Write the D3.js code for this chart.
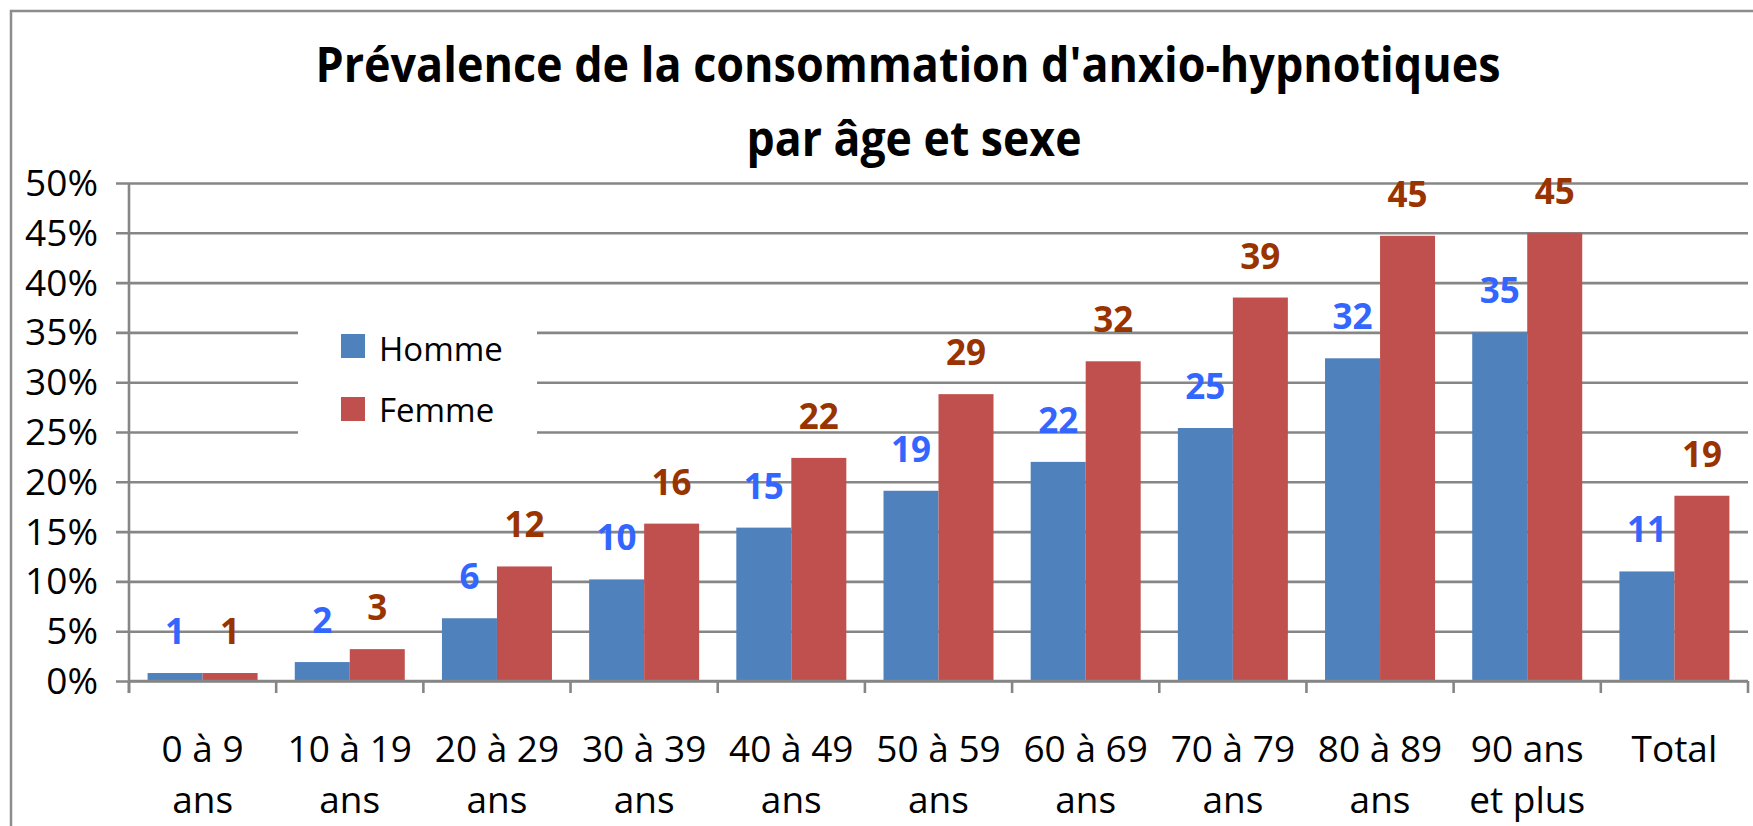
<!DOCTYPE html>
<html>
<head>
<meta charset="utf-8">
<script src="https://cdn.jsdelivr.net/npm/d3@7"></script>
<style>
  html, body { margin: 0; padding: 0; background: #fff; }
  svg { display: block; }
  text { font-family: "Open Sans", "Noto Sans", sans-serif; }
</style>
</head>
<body>
<svg id="chart" width="1753" height="826"></svg>
<script>
// ---- data ----
const categories = ["0 à 9 ans", "10 à 19 ans", "20 à 29 ans", "30 à 39 ans", "40 à 49 ans",
  "50 à 59 ans", "60 à 69 ans", "70 à 79 ans", "80 à 89 ans", "90 ans et plus", "Total"];
const categoryLines = [["0 à 9", "ans"], ["10 à 19", "ans"], ["20 à 29", "ans"], ["30 à 39", "ans"],
  ["40 à 49", "ans"], ["50 à 59", "ans"], ["60 à 69", "ans"], ["70 à 79", "ans"],
  ["80 à 89", "ans"], ["90 ans", "et plus"], ["Total"]];
const seriesNames = ["Homme", "Femme"];
const homme = [0.8, 1.9, 6.3, 10.2, 15.4, 19.1, 22.0, 25.4, 32.4, 35.0, 11.0];
const femme = [0.8, 3.2, 11.5, 15.8, 22.4, 28.8, 32.1, 38.5, 44.7, 45.0, 18.6];
const yTicks = [0, 5, 10, 15, 20, 25, 30, 35, 40, 45, 50];
const titleLines = ["Prévalence de la consommation d'anxio-hypnotiques", "par âge et sexe"];

(function () {
// ---- styles ----
const barColors = { Homme: "#4F81BD", Femme: "#C0504D" };
const labelColors = { Homme: "#3366FF", Femme: "#993300" };
const gridColor = "#868686";

const svg = d3.select("#chart");

// outer frame (cropped at right/bottom)
svg.append("rect").attr("x", 11).attr("y", 11).attr("width", 1760).attr("height", 830)
  .attr("fill", "none").attr("stroke", "#8c8c8c").attr("stroke-width", 2.5);

const pLeft = 129, pRight = 1748, pTop = 183, pBottom = 681;

const x0 = d3.scaleBand().domain(categories).range([pLeft, pRight]).paddingInner(0).paddingOuter(0);
const x1 = d3.scaleBand().domain(seriesNames).range([0, x0.bandwidth()]).paddingInner(0).paddingOuter(0.338);
const y = d3.scaleLinear().domain([0, 50]).range([pBottom, pTop]);

// gridlines + y axis labels
const yAxis = d3.axisLeft(y).tickValues(yTicks).tickSize(-(pRight - pLeft + 13)).tickFormat(d => d + "%");
const gy = svg.append("g").attr("transform", `translate(${pLeft - 13},0)`).call(yAxis);
gy.select(".domain").remove();
gy.selectAll(".tick line").attr("stroke", gridColor).attr("stroke-width", 2.6);
gy.selectAll(".tick text").attr("x", -18).attr("font-size", 37).attr("fill", "#000")
  .attr("font-family", "'Open Sans', sans-serif").attr("dy", "0.34em");

// legend background (covers gridlines)
svg.append("rect").attr("x", 298).attr("y", 292).attr("width", 239).attr("height", 176).attr("fill", "#fff");

// y axis line
svg.append("line").attr("x1", pLeft).attr("x2", pLeft).attr("y1", pTop).attr("y2", pBottom + 12)
  .attr("stroke", gridColor).attr("stroke-width", 2.6);

// bars
const seriesData = { Homme: homme, Femme: femme };
const groups = svg.append("g").selectAll("g").data(categories).join("g")
  .attr("transform", d => `translate(${x0(d)},0)`);
groups.selectAll("rect")
  .data((d, i) => seriesNames.map(s => ({ s, v: seriesData[s][i] })))
  .join("rect")
  .attr("x", d => x1(d.s))
  .attr("width", x1.bandwidth())
  .attr("y", d => y(d.v))
  .attr("height", d => y(0) - y(d.v))
  .attr("fill", d => barColors[d.s]);

// bottom axis
const xAxis = d3.axisBottom(x0).tickSize(0).tickFormat("");
const gx = svg.append("g").attr("transform", `translate(0,${pBottom})`).call(xAxis);
gx.select(".domain").attr("stroke", gridColor).attr("stroke-width", 2.6).attr("d", `M${pLeft},0H${pRight}`);
const boundaries = categories.map(c => x0(c)).concat([pRight]);
svg.append("g").selectAll("line").data(boundaries).join("line")
  .attr("x1", d => d).attr("x2", d => d).attr("y1", pBottom).attr("y2", pBottom + 12)
  .attr("stroke", gridColor).attr("stroke-width", 2.6);

// category labels
const catLabels = svg.append("g").selectAll("text").data(categories).join("text")
  .attr("x", d => x0(d) + x0.bandwidth() / 2)
  .attr("y", 762)
  .attr("text-anchor", "middle")
  .attr("font-size", 37)
  .attr("fill", "#000");
catLabels.each(function(d, i) {
  const t = d3.select(this);
  categoryLines[i].forEach((line, j) => {
    t.append("tspan").attr("x", x0(d) + x0.bandwidth() / 2).attr("dy", j === 0 ? 0 : 51).text(line);
  });
});

// data labels
groups.selectAll("text.val")
  .data((d, i) => seriesNames.map(s => ({ s, v: seriesData[s][i] })))
  .join("text")
  .attr("class", "val")
  .attr("x", d => x1(d.s) + x1.bandwidth() / 2)
  .attr("y", d => y(d.v) - 29)
  .attr("text-anchor", "middle")
  .attr("font-size", 35)
  .attr("font-weight", "bold")
  .attr("fill", d => labelColors[d.s])
  .text(d => Math.round(d.v));

// legend
const legend = svg.append("g");
seriesNames.forEach((s, i) => {
  legend.append("rect").attr("x", 341).attr("y", 334 + i * 63).attr("width", 24).attr("height", 24)
    .attr("fill", barColors[s]);
  legend.append("text").attr("x", 379).attr("y", 361 + i * 61).attr("font-size", 33)
    .attr("fill", "#000").text(s);
});

// title
const titleX = 908;
const title = svg.append("g");
title.append("text").attr("x", titleX).attr("y", 82).attr("text-anchor", "middle")
  .attr("font-size", 49).attr("font-weight", "bold").attr("fill", "#000")
  .attr("textLength", 1185).attr("lengthAdjust", "spacingAndGlyphs").text(titleLines[0]);
title.append("text").attr("x", titleX + 6).attr("y", 156).attr("text-anchor", "middle")
  .attr("font-size", 49).attr("font-weight", "bold").attr("fill", "#000")
  .attr("textLength", 335).attr("lengthAdjust", "spacingAndGlyphs").text(titleLines[1]);
})();
</script>
</body>
</html>
